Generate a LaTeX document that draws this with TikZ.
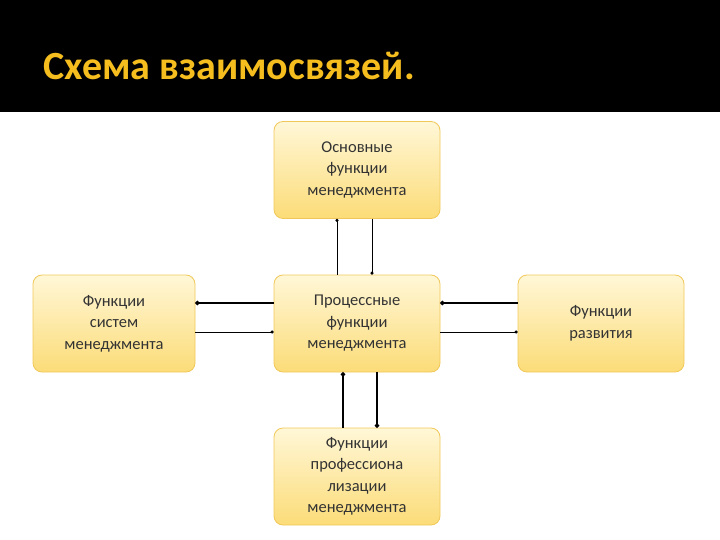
\documentclass[tikz,border=0pt]{standalone}
\usepackage{fontspec}
\usetikzlibrary{arrows.meta}
\setmainfont{Carlito}
\begin{document}
\begin{tikzpicture}[x=1pt,y=-1pt,
  box/.style={draw=boxline,line width=0.8pt,rounded corners=9pt,top color=boxtop,bottom color=boxbot,minimum width=166pt,minimum height=97pt,align=center,font=\fontsize{16.5}{21.5}\selectfont,text=black!80},
  lnA/.style={line width=1pt,-{Circle[length=3pt]}},
  lnB/.style={line width=2pt,-{Circle[length=4pt]}}]
\definecolor{boxtop}{RGB}{255,247,215}
\definecolor{boxbot}{RGB}{252,220,120}
\definecolor{boxline}{RGB}{240,200,90}
\definecolor{ttl}{RGB}{245,190,30}
\useasboundingbox (0,0) rectangle (720,540);
\fill[black] (0,0) rectangle (720,112);
\node[anchor=west,text=ttl,font=\fontsize{40}{46}\selectfont\bfseries] (title) at (40,66) {Схема взаимосвязей.};
\node[box] (top) at (357,170) {Основные\\функции\\менеджмента};
\node[box,minimum width=162pt] (left) at (114,323.5) {Функции\\систем\\менеджмента};
\node[box] (mid) at (357,323.5) {Процессные\\функции\\менеджмента};
\node[box] (right) at (601,323.5) {Функции\\развития};
\node[box] (bot) at (357,476.5) {Функции\\профессиона\\лизации\\менеджмента};
\draw[lnA] (mid.north -| 337,0) -- (top.south -| 337,0);
\draw[lnA] (top.south -| 372,0) -- (mid.north -| 372,0);
\draw[lnB] (mid.west |- 0,303) -- (left.east |- 0,303);
\draw[lnA] (left.east |- 0,332) -- (mid.west |- 0,332);
\draw[lnB] (right.west |- 0,303) -- (mid.east |- 0,303);
\draw[lnA] (mid.east |- 0,332) -- (right.west |- 0,332);
\draw[lnB] (bot.north -| 343,0) -- (mid.south -| 343,0);
\draw[lnB] (mid.south -| 377,0) -- (bot.north -| 377,0);
\end{tikzpicture}
\end{document}
